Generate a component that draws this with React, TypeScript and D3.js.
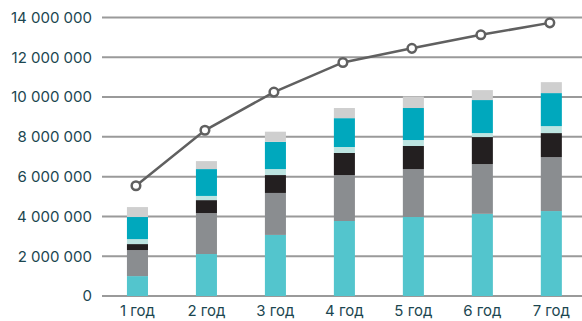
import React from "react";
import * as d3 from "d3";

const categories = ["1 год", "2 год", "3 год", "4 год", "5 год", "6 год", "7 год"];
const seriesA = [1000000, 2110000, 3070000, 3770000, 3970000, 4130000, 4270000];
const seriesB = [1310000, 2060000, 2110000, 2310000, 2410000, 2500000, 2710000];
const seriesC = [300000, 650000, 900000, 1110000, 1160000, 1360000, 1210000];
const seriesD = [250000, 210000, 300000, 300000, 300000, 200000, 350000];
const seriesE = [1110000, 1350000, 1370000, 1450000, 1610000, 1660000, 1660000];
const seriesF = [500000, 400000, 510000, 510000, 580000, 500000, 550000];
const lineValues = [5540000, 8330000, 10250000, 11740000, 12450000, 13130000, 13730000];
const yTicks = [0, 2000000, 4000000, 6000000, 8000000, 10000000, 12000000, 14000000];

const seriesList = [seriesA, seriesB, seriesC, seriesD, seriesE, seriesF];
const colors = ["#53C5CD", "#8A8D90", "#231F20", "#BDE4E1", "#00A8BD", "#CFCFCF"];

const W = 582;
const H = 321;

function fmt(v: number) {
  return d3.format(",")(v).replace(/,/g, " ");
}

export default function App() {
  const y = d3.scaleLinear().domain([0, 14000000]).range([296, 17.5]);
  const x = d3.scaleBand<string>().domain(categories).range([102.8, 586]).paddingInner(0.695).paddingOuter(0.35);
  const bw = x.bandwidth();
  const cx = (c: string) => (x(c) as number) + bw / 2;

  const rows = categories.map((c, i) => {
    const o: any = { cat: c };
    seriesList.forEach((s, k) => (o["s" + k] = s[i]));
    return o;
  });
  const stack = d3.stack<any>().keys(seriesList.map((_, k) => "s" + k))(rows);

  const line = d3
    .line<number>()
    .x((_, i) => cx(categories[i]) - 1.5)
    .y((d) => y(d));

  const font = "Inter, 'Noto Sans', sans-serif";
  const textColor = "#1B4650";

  return (
    <svg width={W} height={H} style={{ position: "absolute", left: 0, top: 0 }}>
      <rect width={W} height={H} fill="#fff" />
      {yTicks.map((t) => (
        <g key={t}>
          <line x1={102} x2={582} y1={y(t)} y2={y(t)} stroke="#9A9A9A" strokeWidth={2} />
          <text
            x={92}
            y={y(t)}
            dy="0.36em"
            textAnchor="end"
            fontFamily={font}
            fontSize={15}
            fill={textColor}
          >
            {fmt(t)}
          </text>
        </g>
      ))}
      {stack.map((layer, k) =>
        layer.map((d, i) => (
          <rect
            key={k + "-" + i}
            x={x(categories[i]) as number}
            width={bw}
            y={y(d[1])}
            height={y(d[0]) - y(d[1])}
            fill={colors[k]}
          />
        ))
      )}
      <path d={line(lineValues) || ""} fill="none" stroke="#606060" strokeWidth={2.5} />
      {lineValues.map((v, i) => (
        <circle
          key={i}
          cx={cx(categories[i]) - 1.5}
          cy={y(v)}
          r={4.3}
          fill="#fff"
          stroke="#606060"
          strokeWidth={2.5}
        />
      ))}
      {categories.map((c) => (
        <text
          key={c}
          x={cx(c)}
          y={316}
          textAnchor="middle"
          fontFamily={font}
          fontSize={15}
          fill={textColor}
        >
          {c}
        </text>
      ))}
    </svg>
  );
}
